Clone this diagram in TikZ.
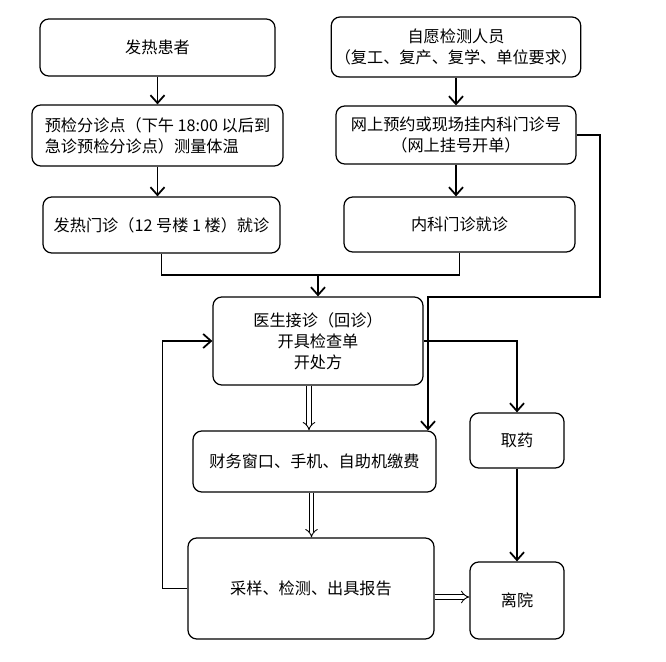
\documentclass[tikz,border=0pt]{standalone}
\usepackage{fontspec}
\setmainfont{Noto Sans CJK SC}
\usetikzlibrary{arrows.meta}
\tikzset{>={Straight Barb[length=4.5pt,width=8pt]}}
\tikzset{
    procbox/.style={rectangle,draw,rounded corners=5pt,line width=0.7pt,align=center,inner sep=2pt,font=\fontsize{9.2}{12}\selectfont},
    dims/.style 2 args={minimum width=#1*0.02cm,minimum height=#2*0.02cm},
    flow/.style={arrows={->},line width=1pt},
    link/.style={line width=1pt},
    hollow/.style={double,double distance=2pt,line width=0.5pt,arrows={-{Implies}}},
}
\begin{document}
\begin{tikzpicture}[x=0.02cm,y=-0.02cm]
		\useasboundingbox (0,0) rectangle (666,662);
		\node[procbox,dims={235}{57}] (fever) at (157.5,47.5) {发热患者};
		\node[procbox,dims={251}{61},align=left] (triage) at (157.5,135.5) {预检分诊点（下午 18:00 以后到\\急诊预检分诊点）测量体温};
		\node[procbox,dims={237}{56}] (feverclinic) at (161.5,225) {发热门诊（12 号楼 1 楼）就诊};
		\node[procbox,dims={240}{60}] (volunteer) at (456,47) {自愿检测人员\\（复工、复产、复学、单位要求）};
		\node[procbox,dims={240}{58}] (register) at (456,135) {网上预约或现场挂内科门诊号\\（网上挂号开单）};
		\node[procbox,dims={231}{55}] (internal) at (459.5,224.5) {内科门诊就诊};
		\node[procbox,dims={210}{88}] (doctor) at (318,341) {医生接诊（回诊）\\开具检查单\\开处方};
		\node[procbox,dims={243}{61}] (pay) at (314.5,461.5) {财务窗口、手机、自助机缴费};
		\node[procbox,dims={246}{101}] (sample) at (311,588.5) {采样、检测、出具报告};
		\node[procbox,dims={94}{55}] (drug) at (517,440.5) {取药};
		\node[procbox,dims={94}{77}] (leave) at (517,600.5) {离院};

		\coordinate (join) at (318,275);
		\coordinate (turn) at (600,297);
		\coordinate (drop) at (428,297);

		\draw[flow] (fever) -- (triage);
		\draw[flow] (triage.south) -- (triage.south |- feverclinic.north);
		\draw[flow] (volunteer) -- (register);
		\draw[flow] (register.south) -- (register.south |- internal.north);
		\draw[link] (feverclinic.south) |- (join);
		\draw[link] (internal.south) |- (join);
		\draw[flow] (join) -- (doctor.north);
		\draw[flow] (register.east) -| (turn) -- (drop) -- (drop |- pay.north);
		\draw[flow] (doctor.east) -| (drug.north);
		\draw[flow] (drug) -- (leave);
		\draw[flow] (sample.west) -- ++(-25,0) |- (doctor.west);
		\draw[hollow] ([shift={(-9,0)}]doctor.south) -- ([shift={(-9,0)}]doctor.south |- pay.north);
		\draw[hollow] ([shift={(-3,0)}]pay.south) -- ([shift={(-3,0)}]pay.south |- sample.north);
		\draw[hollow] ([shift={(0,8.5)}]sample.east) -- ([shift={(0,8.5)}]sample.east -| leave.west);
	\end{tikzpicture}
\end{document}
